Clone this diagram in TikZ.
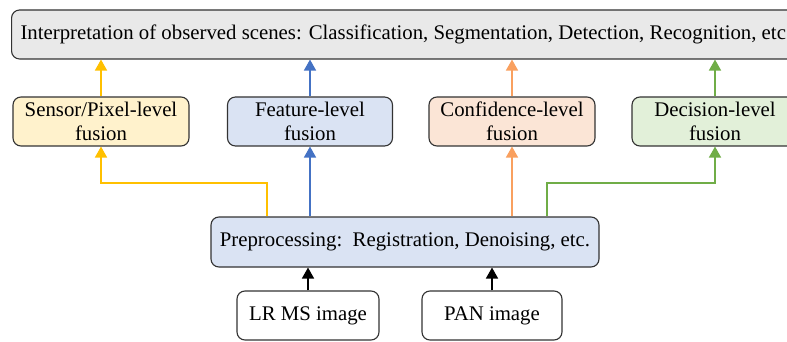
\documentclass[tikz,border=0pt]{standalone}
\usepackage{fontspec}
\setmainfont{Liberation Serif}
\usetikzlibrary{arrows.meta}
\definecolor{topfill}{HTML}{E9E9E9}
\definecolor{bordc}{HTML}{333333}
\definecolor{yfill}{HTML}{FFF2CC}
\definecolor{bfill}{HTML}{DAE3F3}
\definecolor{ofill}{HTML}{FBE5D6}
\definecolor{gfill}{HTML}{E2F0D9}
\definecolor{yline}{HTML}{FFC000}
\definecolor{bline}{HTML}{4472C4}
\definecolor{oline}{HTML}{F9A05F}
\definecolor{gline}{HTML}{70AD47}
\tikzset{
  box/.style={draw=bordc, line width=1.1pt, rounded corners=8pt, align=center,
    inner sep=0pt, minimum height=49pt,
    font=\fontsize{20.8pt}{24pt}\selectfont},
  conn/.style={line width=1.6pt, -{Triangle[width=12pt,length=11pt]}},
}
\begin{document}
\begin{tikzpicture}[x=1pt,y=-1pt]
\useasboundingbox (0,0) rectangle (787,342);
\clip (0,0) rectangle (787,342);
% top box
\node[box, fill=topfill, anchor=west, inner xsep=9pt, minimum height=49pt] (top) at (11,34.5)
  {Interpretation of observed scenes: Classification, Segmentation, Detection, Recognition, etc.};
% fusion boxes
\node[box, fill=yfill, minimum width=176pt] (sen) at (101,121.5) {Sensor/Pixel-level\\fusion};
\node[box, fill=bfill, minimum width=165pt] (fea) at (310,121.5) {Feature-level\\fusion};
\node[box, fill=ofill, minimum width=166pt] (con) at (512,121.5) {Confidence-level\\fusion};
\node[box, fill=gfill, minimum width=166pt] (dec) at (715,121.5) {Decision-level\\fusion};
% preprocessing
\node[box, fill=bfill, minimum width=388pt, minimum height=50pt] (pre) at (405,242)
  {Preprocessing:\ \ Registration, Denoising, etc.};
% inputs
\node[box, fill=white, minimum width=142pt] (lr) at (308,315.5) {LR MS image};
\node[box, fill=white, minimum width=140pt] (pan) at (492,315.5) {PAN image};
% bend points
\coordinate (ya) at (267,183);
\coordinate (ga) at (547,183);
% fusion -> top
\draw[conn, yline] (sen.north) -- (sen.north |- top.south);
\draw[conn, bline] (fea.north) -- (fea.north |- top.south);
\draw[conn, oline] (con.north) -- (con.north |- top.south);
\draw[conn, gline] (dec.north) -- (dec.north |- top.south);
% pre -> fusion
\draw[conn, yline] (pre.north -| ya) -- (ya) -| (sen.south);
\draw[conn, bline] (pre.north -| fea.south) -- (fea.south);
\draw[conn, oline] (pre.north -| con.south) -- (con.south);
\draw[conn, gline] (pre.north -| ga) -- (ga) -| (dec.south);
% inputs -> pre
\draw[conn, black] (lr.north) -- (lr.north |- pre.south);
\draw[conn, black] (pan.north) -- (pan.north |- pre.south);
\end{tikzpicture}
\end{document}
